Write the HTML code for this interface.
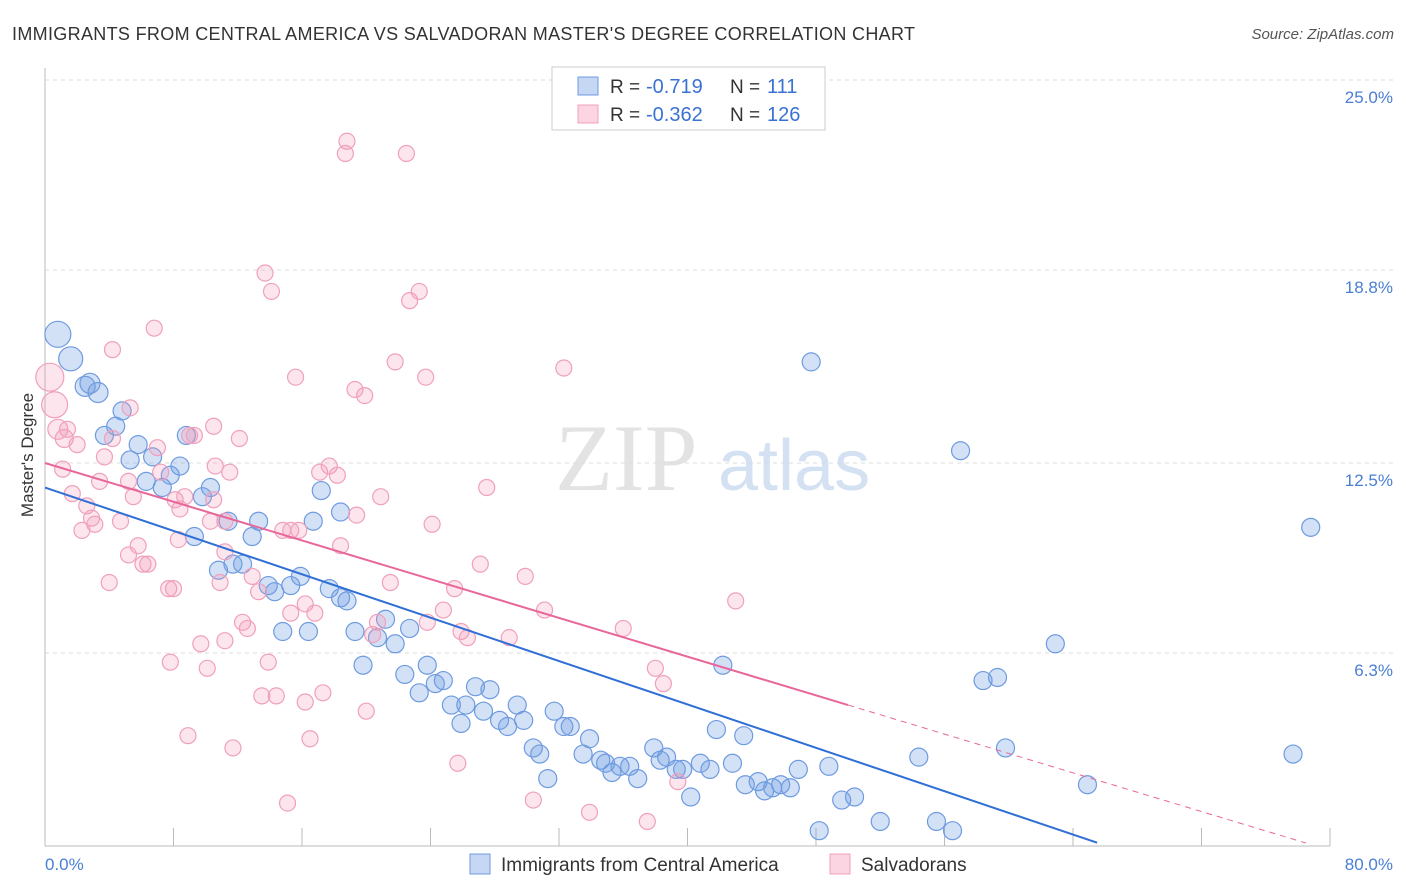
<!DOCTYPE html>
<html><head><meta charset="utf-8"><style>
body{margin:0;background:#fff;font-family:"Liberation Sans",sans-serif;}
#wrap{position:relative;width:1406px;height:892px;overflow:hidden;}
</style></head><body>
<div id="wrap">
<svg id="chart" width="1406" height="892"></svg>
</div>
<script>
const xTickLabels=["0.0%","80.0%"];
const yTickValues=[6.3,12.5,18.8,25.0];
const yTickLabels=["6.3%","12.5%","18.8%","25.0%"];
const blueX=[0.8,1.6,2.5,3.3,2.8,4.8,4.4,3.7,5.8,5.3,6.7,6.3,7.3,7.8,8.4,8.8,9.8,10.3,9.3,11.4,13.3,12.9,11.7,12.3,10.8,13.9,14.3,15.3,15.9,16.7,17.2,18.4,17.7,18.4,18.8,14.8,16.4,19.3,21.2,20.7,22.7,19.8,21.8,22.4,23.8,23.3,24.3,24.8,25.3,25.9,26.2,26.8,27.7,27.3,28.3,28.8,29.4,29.8,30.4,30.8,31.3,31.7,32.3,32.7,33.9,33.5,34.6,34.9,35.3,35.8,36.4,36.9,37.9,38.3,38.7,39.3,39.7,40.2,40.8,41.4,41.8,42.2,42.8,43.5,43.6,44.4,44.8,45.3,45.8,46.4,46.9,47.7,48.2,48.8,49.6,50.4,52.0,54.4,55.5,56.5,57.0,58.4,59.3,59.8,62.9,64.9,77.7,78.8];
const blueY=[16.7,15.9,15.0,14.8,15.1,14.2,13.7,13.4,13.1,12.6,12.7,11.9,11.7,12.1,12.4,13.4,11.4,11.7,10.1,10.6,10.6,10.1,9.2,9.2,9.0,8.5,8.3,8.5,8.8,10.6,11.6,10.9,8.4,8.1,8.0,7.0,7.0,7.0,7.4,6.8,7.1,5.9,6.6,5.6,5.9,5.0,5.3,5.4,4.6,4.0,4.6,5.2,5.1,4.4,4.1,3.9,4.6,4.1,3.2,3.0,2.2,4.4,3.9,3.9,3.5,3.0,2.8,2.7,2.4,2.6,2.6,2.2,3.2,2.8,2.9,2.5,2.5,1.6,2.7,2.5,3.8,5.9,2.7,3.6,2.0,2.1,1.8,1.9,2.0,1.9,2.5,15.8,0.5,2.6,1.5,1.6,0.8,2.9,0.8,0.5,12.9,5.4,5.5,3.2,6.6,2.0,3.0,10.4];
const blueSize=[13,12,10,10,10,9];
const pinkX=[0.3,0.6,0.8,1.2,1.4,2.0,1.1,1.7,2.6,2.9,2.3,3.1,3.4,3.7,4.2,4.7,5.2,5.5,5.8,5.2,6.1,6.4,4.0,4.2,5.3,6.8,7.0,7.2,8.1,8.3,8.7,8.4,9.0,9.3,7.7,8.0,7.8,9.7,10.1,8.9,10.5,10.6,11.5,12.1,10.3,10.5,11.2,11.2,10.9,11.2,12.3,12.6,12.9,13.3,11.7,13.9,13.7,14.1,15.6,13.5,14.4,14.8,15.3,15.8,15.3,16.2,16.8,16.2,17.3,16.5,15.1,17.1,17.7,18.2,18.4,18.8,18.7,19.3,19.9,19.4,20.0,20.9,20.7,20.4,21.5,21.8,22.5,22.7,23.3,23.7,24.1,23.8,24.8,25.5,25.9,26.3,25.7,27.1,27.5,28.9,29.9,31.1,30.4,32.3,33.9,36.0,37.5,38.0,38.5,39.4,43.0];
const pinkY=[15.3,14.4,13.6,13.3,13.6,13.1,12.3,11.5,11.1,10.7,10.3,10.5,11.9,12.7,13.3,10.6,11.9,11.4,9.8,9.5,9.2,9.2,8.6,16.2,14.3,16.9,13.0,12.2,11.3,10.0,11.4,11.0,13.4,13.4,8.4,8.4,6.0,6.6,5.8,3.6,13.7,12.4,12.2,13.3,10.6,11.3,10.6,9.6,8.6,6.7,7.3,7.1,8.8,8.3,3.2,6.0,18.7,18.1,15.3,4.9,4.9,10.3,10.3,10.3,7.6,7.9,7.6,4.7,5.0,3.5,1.4,12.2,12.4,12.1,9.8,23.0,22.6,14.9,14.7,10.8,4.4,11.4,7.3,6.9,8.6,15.8,22.6,17.8,18.1,15.3,10.5,7.3,7.7,8.4,7.0,6.8,2.7,9.2,11.7,6.8,8.8,7.7,1.5,15.6,1.1,7.1,0.8,5.8,5.3,2.1,8.0];
const pinkSize=[14,13,10,9];
const blueTrend=[11.7,-0.177];
const pinkTrend=[12.5,-0.158];
const pinkSolidEnd=50, pinkDashEnd=78.5, blueEnd=65.5;

const NS="http://www.w3.org/2000/svg";
const svg=document.getElementById('chart');
const X0=45,X1=1330,Y0=846,YPER=30.64;
const sx=v=>X0+(X1-X0)*v/80;
const sy=v=>Y0-v*YPER;
function el(tag,attrs,parent){const e=document.createElementNS(NS,tag);for(const k in attrs)e.setAttribute(k,attrs[k]);(parent||svg).appendChild(e);return e;}
function txt(s,attrs){const t=el('text',attrs);t.textContent=s;return t;}

let t=txt("IMMIGRANTS FROM CENTRAL AMERICA VS SALVADORAN MASTER'S DEGREE CORRELATION CHART",{x:12,y:40,'font-size':18,fill:'#333',textLength:903,lengthAdjust:'spacing'});

t=txt("Source: ZipAtlas.com",{x:1394,y:39,'font-size':15,fill:'#555','text-anchor':'end','font-style':'italic'});


yTickValues.forEach((v,i)=>{
 const g=el('line',{x1:X0,x2:1395,y1:sy(v),y2:sy(v),stroke:'#ddd','stroke-dasharray':'4,4'});
 
 const l=txt(yTickLabels[i],{x:1393,y:sy(v)+23,'font-size':17,fill:'#4a7fd4','text-anchor':'end'});
 
});
let a=el('line',{x1:X0,x2:X0,y1:68,y2:Y0,stroke:'#bbb'});

a=el('line',{x1:X0,x2:X1,y1:Y0,y2:Y0,stroke:'#bbb'});

for(let i=1;i<=10;i++){const tk=el('line',{x1:sx(i*8),x2:sx(i*8),y1:Y0-18,y2:Y0,stroke:'#bbb'});
 }
t=txt(xTickLabels[0],{x:45,y:870,'font-size':17,fill:'#4a7fd4'});

t=txt(xTickLabels[1],{x:1393,y:870,'font-size':17,fill:'#4a7fd4','text-anchor':'end'});

t=txt("Master's Degree",{x:33,y:455,'font-size':17,fill:'#333','text-anchor':'middle',transform:'rotate(-90 33 455)'});


t=txt("ZIP",{x:555,y:490,'font-size':95,fill:'#ddd','font-family':'Liberation Serif',opacity:0.8});

t=txt("atlas",{x:718,y:490,'font-size':72,fill:'#c9daf0',opacity:0.8});


blueX.forEach((x,i)=>{const c=el('circle',{cx:sx(x),cy:sy(blueY[i]),r:blueSize[i]||9,fill:'rgba(110,155,225,0.3)',stroke:'#6e9be0','stroke-width':1.2});
 });
pinkX.forEach((x,i)=>{const c=el('circle',{cx:sx(x),cy:sy(pinkY[i]),r:pinkSize[i]||8,fill:'rgba(244,150,180,0.25)',stroke:'#f0a0bc','stroke-width':1.2});
 });

let l=el('line',{x1:sx(0),y1:sy(blueTrend[0]),x2:sx(blueEnd),y2:sy(blueTrend[0]+blueTrend[1]*blueEnd),stroke:'#2f6fd6','stroke-width':2});

l=el('line',{x1:sx(0),y1:sy(pinkTrend[0]),x2:sx(pinkSolidEnd),y2:sy(pinkTrend[0]+pinkTrend[1]*pinkSolidEnd),stroke:'#e8679a','stroke-width':2});

l=el('line',{x1:sx(pinkSolidEnd),y1:sy(pinkTrend[0]+pinkTrend[1]*pinkSolidEnd),x2:sx(pinkDashEnd),y2:sy(pinkTrend[0]+pinkTrend[1]*pinkDashEnd),stroke:'#e8679a','stroke-width':1,'stroke-dasharray':'6,5'});


let b=el('rect',{x:552,y:67,width:273,height:63,fill:'#fff',stroke:'#ccc'});

[["-0.719","111",'rgba(110,155,225,0.4)','#6e9be0'],["-0.362","126",'rgba(244,150,180,0.4)','#f0a0bc']].forEach((r,i)=>{
 const y=86+i*28;
 const s=el('rect',{x:578,y:y-9,width:20,height:18,fill:r[2],stroke:r[3]});
 
 let q=txt("R = ",{x:610,y:y+7,'font-size':19,fill:'#333'});
 q=txt(r[0],{x:646,y:y+7,'font-size':20,fill:'#3a72d4'});
 q=txt("N = ",{x:730,y:y+7,'font-size':19,fill:'#333'});
 q=txt(r[1],{x:767,y:y+7,'font-size':20,fill:'#3a72d4'});
});
[[470,"Immigrants from Central America",'rgba(110,155,225,0.4)','#6e9be0'],[830,"Salvadorans",'rgba(244,150,180,0.4)','#f0a0bc']].forEach(r=>{
 const s=el('rect',{x:r[0],y:854,width:20,height:20,fill:r[2],stroke:r[3]});
 
 const q=txt(r[1],{x:r[0]+31,y:871,'font-size':19,fill:'#333'});
 
});
</script>
</body></html>
